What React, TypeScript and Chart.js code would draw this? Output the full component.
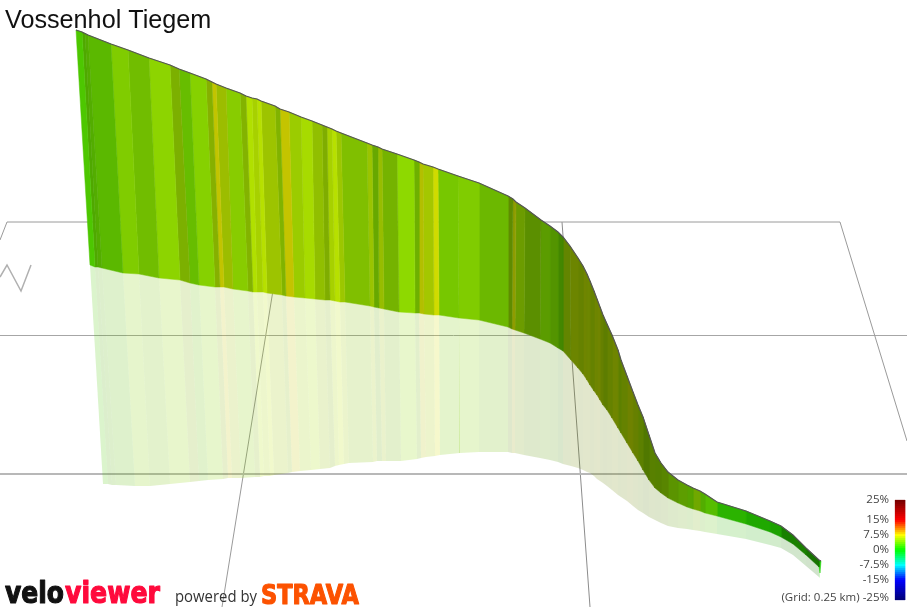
import { useEffect, useRef } from 'react';
import { Chart, type Plugin } from 'chart.js/auto';

const title = 'Vossenhol Tiegem';
const gradeTicks = ['25%', '15%', '7.5%', '0%', '-7.5%', '-15%', '(Grid: 0.25 km) -25%'];
const gradeTickValues = [25, 15, 7.5, 0, -7.5, -15, -24];

// road profile as seen in the 3D view: top edge, ground edge, shadow edge
const topX = [
  76, 82, 85, 88, 111, 128, 149, 170, 179, 190, 206, 212, 216, 226, 240, 246, 252, 257, 261, 275,
  280, 289, 301, 312, 322, 327, 332, 336, 341, 367, 372, 378, 382, 397, 414, 419, 423, 433, 438, 458,
  479, 508, 513, 516, 525, 541, 550, 558, 563, 570, 578, 583, 587, 590, 594, 597, 600, 603, 607, 612,
  618, 621, 627, 633, 638, 643, 649, 655, 661, 668, 678, 687, 693, 700, 705, 717, 746, 770, 781, 793,
  806, 819, 821,
];
const topY = [
  30, 32, 33.5, 35, 44, 50, 58, 65, 69, 73, 79, 82, 84, 88, 93, 96, 98, 99, 101, 106,
  109, 112, 117, 121, 125, 127, 129, 131, 133, 143, 145, 147, 149, 154, 160, 162, 164, 167, 169, 176,
  183, 196, 199, 202, 208, 220, 226, 232, 237, 246, 258, 266, 274, 281, 291, 299, 307, 315, 324, 335,
  350, 360, 376, 392, 405, 417, 435, 453, 463, 472, 480, 485, 488, 491, 494, 502, 511, 521, 526, 535,
  548, 560, 561,
];
const midX = [
  90, 95, 98, 102, 123, 139, 159, 180, 190, 199, 215, 220, 224, 233, 248, 253, 257, 263, 267, 282,
  286, 294, 305, 315, 325, 330, 335, 340, 345, 370, 374, 379, 384, 399, 415, 419, 424, 434, 439, 459,
  479, 508, 512, 515, 524, 540, 550, 558, 563, 571, 578, 583, 587, 590, 594, 597, 600, 603, 607, 612,
  618, 621, 627, 633, 638, 643, 649, 655, 661, 668, 678, 687, 693, 700, 705, 717, 746, 770, 781, 793,
  806, 819, 820,
];
const midY = [
  265, 267, 267, 268, 273, 274, 278, 280, 283, 285, 287, 287, 287, 289, 291, 292, 292, 292, 293, 295,
  296, 297, 298, 299, 300, 300, 301, 302, 302, 306, 307, 308, 309, 312, 313, 313, 314, 315, 315, 318,
  320, 327, 329, 330, 333, 339, 343, 348, 351, 360, 368, 374, 380, 385, 391, 395, 400, 405, 410, 418,
  428, 433, 443, 453, 461, 470, 480, 488, 493, 498, 503, 507, 509, 511, 513, 516, 524, 532, 537, 544,
  555, 567, 573,
];
const baseX = [
  103, 108, 112, 116, 135, 150, 170, 190, 199, 208, 223, 228, 232, 241, 255, 260, 264, 270, 274, 288,
  292, 300, 311, 320, 330, 335, 339, 344, 349, 373, 377, 382, 386, 401, 417, 421, 426, 435, 440, 460,
  479, 508, 512, 515, 524, 540, 550, 558, 563, 571, 578, 583, 587, 590, 594, 597, 600, 603, 607, 612,
  618, 621, 627, 633, 638, 643, 649, 655, 661, 668, 678, 687, 693, 700, 705, 717, 746, 770, 781, 793,
  806, 819, 820,
];
const baseY = [
  484, 484, 485, 485, 486, 486, 484, 482, 481, 480, 479, 478, 478, 478, 477, 477, 476, 476, 475, 473,
  472, 471, 470, 469, 468, 466, 465, 464, 463, 462, 461, 461, 461, 461, 459, 458, 457, 456, 455, 453,
  452, 452, 453, 453, 455, 458, 460, 462, 464, 466, 468, 470, 472, 473, 476, 479, 481, 483, 486, 490,
  495, 497, 501, 506, 510, 513, 517, 520, 523, 526, 528, 529, 530, 531, 532, 534, 539, 545, 548, 555,
  566, 577, 578,
];

// per segment: gradient in % and how much light the wall catches
const grades = [
  2.9, 3.5, 3.6, 3.7, 4.7, 4.5, 5, 5.3, 4.1, 4.8, 5.7, 7.4, 6.2, 5, 5.5, 5.9, 6, 6.1, 6, 5.4,
  7.5, 5.7, 5.7, 5.7, 5.5, 6, 6.1, 5.9, 5, 5.9, 4.6, 6, 4.9, 4.9, 4.7, 7, 6.2, 7.1, 4.5, 4.7,
  4.4, 5.1, 6.9, 5.2, 4.8, 4.4, 4.2, 3.7, 5.6, 6.1, 5.9, 6.3, 6.1, 5.8, 6.3, 6.4, 6, 5.6, 5.9, 6.3,
  5.5, 5.8, 6.4, 6, 5.4, 5, 5.2, 5, 5, 4.6, 4.4, 4, 5, 3.6, 3.4, 1.8, 1.4, 1.3, 1.4, 1.5,
  1.5, 1,
];
const lights = [
  0.78, 0.66, 0.68, 0.72, 0.8, 0.74, 0.83, 0.69, 0.74, 0.82, 0.69, 0.77, 0.74, 0.8, 0.7, 0.88, 0.82, 0.88, 0.77, 0.7,
  0.77, 0.8, 0.86, 0.75, 0.68, 0.82, 0.88, 0.78, 0.75, 0.77, 0.66, 0.74, 0.7, 0.85, 0.69, 0.75, 0.78, 0.86, 0.78, 0.8,
  0.72, 0.55, 0.61, 0.61, 0.56, 0.61, 0.58, 0.53, 0.52, 0.52, 0.51, 0.52, 0.53, 0.51, 0.52, 0.52, 0.5, 0.49, 0.51, 0.52,
  0.5, 0.51, 0.51, 0.5, 0.5, 0.47, 0.5, 0.5, 0.52, 0.58, 0.62, 0.64, 0.66, 0.68, 0.74, 0.7, 0.66, 0.63, 0.5, 0.5,
  0.45, 0.82,
];

// floor grid and the north arrow
const gridLines = [
  { x: [0, 7, 840, 907], y: [240, 222, 222, 441], width: 1, color: '#9a9a9a' },
  { x: [0, 907], y: [335.5, 335.5], width: 1, color: '#a6a6a6' },
  { x: [0, 907], y: [474, 474], width: 2, color: '#b8b8b8' },
  { x: [562, 590], y: [222, 607], width: 1, color: '#8c8c8c' },
  { x: [284, 222], y: [222, 607], width: 1, color: '#9a9a9a' },
  { x: [0, 7, 21, 31], y: [277, 265, 291, 265], width: 1.5, color: '#b0b0b0' },
];

function gradeColor(grade: number, light = 1, alpha = 1) {
  const hue = 120 - 8 * Math.min(Math.max(grade, -15), 15);
  const over = Math.max(Math.abs(grade) - 15, 0) / 10;
  const v = light * (1 - over * 0.55);
  const f = (n: number) => {
    const k = (n + hue / 60) % 6;
    return Math.round(255 * (v - v * Math.max(0, Math.min(k, 4 - k, 1))));
  };
  return `rgba(${f(5)},${f(3)},${f(1)},${alpha})`;
}

const quad = (ax: number[], ay: number[], bx: number[], by: number[], i: number) => [
  { x: ax[i], y: ay[i] },
  { x: ax[i + 1], y: ay[i + 1] },
  { x: bx[i + 1], y: by[i + 1] },
  { x: bx[i], y: by[i] },
  { x: ax[i], y: ay[i] },
];

const shape = (data: { x: number; y: number }[], color: string, border: number) => ({
  data,
  showLine: true,
  fill: 'shape',
  backgroundColor: color,
  borderColor: border > 0 ? color : 'transparent',
  borderWidth: border || 1,
  pointRadius: 0,
  tension: 0,
});

const gridDatasets = gridLines.map((l) => ({
  data: l.x.map((x, i) => ({ x, y: l.y[i] })),
  showLine: true,
  fill: false,
  borderColor: l.color,
  borderWidth: l.width,
  pointRadius: 0,
  tension: 0,
}));
const shadowDatasets = grades.map((g, i) => shape(quad(midX, midY, baseX, baseY, i), gradeColor(g, lights[i], 0.2), 0));
const wallDatasets = grades.map((g, i) => shape(quad(topX, topY, midX, midY, i), gradeColor(g, lights[i]), 0.5));
const profileDataset = {
  data: topX.map((x, i) => ({ x, y: topY[i] })),
  showLine: true,
  fill: false,
  borderColor: '#555555',
  borderWidth: 1.2,
  pointRadius: 0,
  tension: 0,
};

// colour key, one slice per percent, 2 px to the percent around 0% at y 550
const keyGrades = Array.from({ length: 50 }, (_, i) => 25 - i);
const keyY = (g: number) => 550 - g * 2;
const keyDatasets = keyGrades.map((g) =>
  shape(
    [
      { x: 895, y: keyY(g) },
      { x: 905, y: keyY(g) },
      { x: 905, y: keyY(g - 1) },
      { x: 895, y: keyY(g - 1) },
      { x: 895, y: keyY(g) },
    ],
    gradeColor(g - 0.5),
    0.3,
  ),
);

const textPlugin: Plugin<'scatter'> = {
  id: 'texts',
  afterDatasetsDraw(chart) {
    const { ctx, scales } = chart;
    const px = (x: number) => scales.x.getPixelForValue(x);
    const py = (y: number) => scales.y.getPixelForValue(y);
    const put = (s: string, x: number, y: number, font: string, color: string, align: CanvasTextAlign = 'left', maxW?: number, bold = 0) => {
      ctx.font = font;
      ctx.fillStyle = color;
      ctx.strokeStyle = color;
      ctx.lineWidth = bold;
      ctx.lineJoin = 'round';
      ctx.textAlign = align;
      ctx.textBaseline = 'alphabetic';
      ctx.fillText(s, px(x), py(y), maxW);
      if (bold) ctx.strokeText(s, px(x), py(y), maxW);
    };
    ctx.save();
    put(title, 5, 28, "25.2px 'Liberation Sans'", '#111');
    gradeTicks.forEach((t, i) => put(t, 889, keyY(gradeTickValues[i]) + 3, "11.5px 'Open Sans'", '#444', 'right'));
    put('velo', 5, 603, "bold 30px 'DejaVu Sans'", '#111', 'left', 59, 1.2);
    put('viewer', 65, 603, "bold 30px 'DejaVu Sans'", '#ff0a3c', 'left', 95, 1.2);
    put('powered by', 175, 602, "15.5px 'Open Sans'", '#333', 'left', 82);
    put('STRAVA', 261, 603.5, "bold 27px 'DejaVu Sans'", '#fc5200', 'left', 98, 1.2);
    ctx.restore();
  },
};

export default function App() {
  const canvasRef = useRef<HTMLCanvasElement>(null);

  useEffect(() => {
    if (!canvasRef.current) return;
    const chart = new Chart(canvasRef.current, {
      type: 'scatter',
      data: {
        // the first dataset is painted last
        datasets: [...keyDatasets, profileDataset, ...wallDatasets, ...shadowDatasets, ...gridDatasets] as any,
      },
      options: {
        animation: false,
        responsive: false,
        events: [],
        layout: { padding: 0 },
        plugins: { legend: { display: false }, tooltip: { enabled: false } },
        scales: {
          x: { type: 'linear', min: 0, max: 907, display: false },
          y: { type: 'linear', min: 0, max: 607, reverse: true, display: false },
        },
      },
      plugins: [textPlugin],
    });
    return () => chart.destroy();
  }, []);

  return (
    <div style={{ position: 'absolute', left: 0, top: 0, width: 907, height: 607, background: '#fff' }}>
      <canvas ref={canvasRef} width={907} height={607} style={{ display: 'block' }}></canvas>
    </div>
  );
}
